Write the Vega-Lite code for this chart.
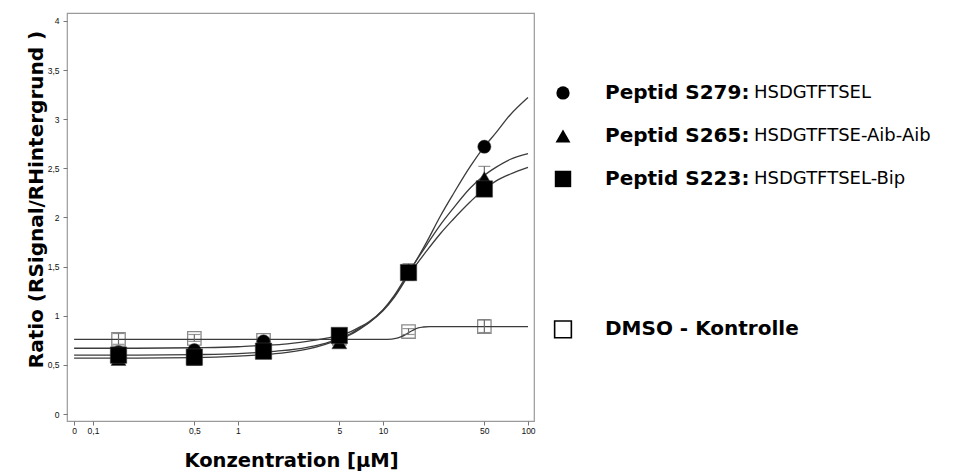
{
  "$schema": "https://vega.github.io/schema/vega-lite/v6.json",
  "background": "white",
  "padding": {"left": 25, "top": 12, "right": 0, "bottom": 0},
  "spacing": 7,
  "config": {"font": "Liberation Sans", "view": {"stroke": null}},
  "resolve": {"scale": {"x": "independent", "y": "independent", "shape": "independent", "color": "independent"}},
  "datasets": {
    "curves": [
      {"series": "S279", "conc": 0.0741, "ratio": 0.67}, {"series": "S279", "conc": 0.2, "ratio": 0.67}, {"series": "S279", "conc": 0.5, "ratio": 0.675}, {"series": "S279", "conc": 1, "ratio": 0.685}, {"series": "S279", "conc": 1.5, "ratio": 0.7}, {"series": "S279", "conc": 2, "ratio": 0.71}, {"series": "S279", "conc": 3, "ratio": 0.74}, {"series": "S279", "conc": 4, "ratio": 0.77}, {"series": "S279", "conc": 5, "ratio": 0.8}, {"series": "S279", "conc": 6, "ratio": 0.84}, {"series": "S279", "conc": 7, "ratio": 0.89}, {"series": "S279", "conc": 8, "ratio": 0.94}, {"series": "S279", "conc": 10, "ratio": 1.06}, {"series": "S279", "conc": 12, "ratio": 1.2}, {"series": "S279", "conc": 15, "ratio": 1.43}, {"series": "S279", "conc": 20, "ratio": 1.75}, {"series": "S279", "conc": 25, "ratio": 2.02}, {"series": "S279", "conc": 30, "ratio": 2.22}, {"series": "S279", "conc": 40, "ratio": 2.52}, {"series": "S279", "conc": 50, "ratio": 2.72}, {"series": "S279", "conc": 60, "ratio": 2.86}, {"series": "S279", "conc": 75, "ratio": 3.04}, {"series": "S279", "conc": 100, "ratio": 3.22},
      {"series": "S265", "conc": 0.0741, "ratio": 0.57}, {"series": "S265", "conc": 0.2, "ratio": 0.57}, {"series": "S265", "conc": 0.5, "ratio": 0.575}, {"series": "S265", "conc": 1, "ratio": 0.59}, {"series": "S265", "conc": 1.5, "ratio": 0.605}, {"series": "S265", "conc": 2, "ratio": 0.62}, {"series": "S265", "conc": 3, "ratio": 0.66}, {"series": "S265", "conc": 4, "ratio": 0.71}, {"series": "S265", "conc": 5, "ratio": 0.76}, {"series": "S265", "conc": 6, "ratio": 0.81}, {"series": "S265", "conc": 7, "ratio": 0.87}, {"series": "S265", "conc": 8, "ratio": 0.93}, {"series": "S265", "conc": 10, "ratio": 1.06}, {"series": "S265", "conc": 12, "ratio": 1.21}, {"series": "S265", "conc": 15, "ratio": 1.44}, {"series": "S265", "conc": 20, "ratio": 1.72}, {"series": "S265", "conc": 25, "ratio": 1.93}, {"series": "S265", "conc": 30, "ratio": 2.08}, {"series": "S265", "conc": 40, "ratio": 2.3}, {"series": "S265", "conc": 50, "ratio": 2.43}, {"series": "S265", "conc": 60, "ratio": 2.51}, {"series": "S265", "conc": 75, "ratio": 2.59}, {"series": "S265", "conc": 100, "ratio": 2.65},
      {"series": "S223", "conc": 0.0741, "ratio": 0.6}, {"series": "S223", "conc": 0.2, "ratio": 0.6}, {"series": "S223", "conc": 0.5, "ratio": 0.605}, {"series": "S223", "conc": 1, "ratio": 0.615}, {"series": "S223", "conc": 1.5, "ratio": 0.63}, {"series": "S223", "conc": 2, "ratio": 0.645}, {"series": "S223", "conc": 3, "ratio": 0.68}, {"series": "S223", "conc": 4, "ratio": 0.72}, {"series": "S223", "conc": 5, "ratio": 0.77}, {"series": "S223", "conc": 6, "ratio": 0.82}, {"series": "S223", "conc": 7, "ratio": 0.88}, {"series": "S223", "conc": 8, "ratio": 0.93}, {"series": "S223", "conc": 10, "ratio": 1.05}, {"series": "S223", "conc": 12, "ratio": 1.19}, {"series": "S223", "conc": 15, "ratio": 1.41}, {"series": "S223", "conc": 20, "ratio": 1.66}, {"series": "S223", "conc": 25, "ratio": 1.84}, {"series": "S223", "conc": 30, "ratio": 1.97}, {"series": "S223", "conc": 40, "ratio": 2.16}, {"series": "S223", "conc": 50, "ratio": 2.29}, {"series": "S223", "conc": 60, "ratio": 2.37}, {"series": "S223", "conc": 75, "ratio": 2.44}, {"series": "S223", "conc": 100, "ratio": 2.51},
      {"series": "DMSO", "conc": 0.0741, "ratio": 0.76}, {"series": "DMSO", "conc": 10, "ratio": 0.76}, {"series": "DMSO", "conc": 11.5, "ratio": 0.763}, {"series": "DMSO", "conc": 12.5, "ratio": 0.772}, {"series": "DMSO", "conc": 13.5, "ratio": 0.79}, {"series": "DMSO", "conc": 14.5, "ratio": 0.815}, {"series": "DMSO", "conc": 15.5, "ratio": 0.84}, {"series": "DMSO", "conc": 16.5, "ratio": 0.862}, {"series": "DMSO", "conc": 17.5, "ratio": 0.877}, {"series": "DMSO", "conc": 19, "ratio": 0.886}, {"series": "DMSO", "conc": 21, "ratio": 0.89}, {"series": "DMSO", "conc": 100, "ratio": 0.89}
    ],
    "points": [
      {"series": "S265", "conc": 0.15, "ratio": 0.56}, {"series": "S265", "conc": 0.5, "ratio": 0.56}, {"series": "S265", "conc": 1.5, "ratio": 0.63}, {"series": "S265", "conc": 5, "ratio": 0.73}, {"series": "S265", "conc": 15, "ratio": 1.44}, {"series": "S265", "conc": 50, "ratio": 2.4},
      {"series": "S279", "conc": 0.15, "ratio": 0.63}, {"series": "S279", "conc": 0.5, "ratio": 0.65}, {"series": "S279", "conc": 1.5, "ratio": 0.74}, {"series": "S279", "conc": 5, "ratio": 0.8}, {"series": "S279", "conc": 15, "ratio": 1.45}, {"series": "S279", "conc": 50, "ratio": 2.72},
      {"series": "S223", "conc": 0.15, "ratio": 0.6}, {"series": "S223", "conc": 0.5, "ratio": 0.58}, {"series": "S223", "conc": 1.5, "ratio": 0.64}, {"series": "S223", "conc": 5, "ratio": 0.8}, {"series": "S223", "conc": 15, "ratio": 1.44}, {"series": "S223", "conc": 50, "ratio": 2.29}
    ],
    "dmso": [
      {"series": "DMSO", "conc": 0.15, "ratio": 0.76}, {"series": "DMSO", "conc": 0.5, "ratio": 0.77}, {"series": "DMSO", "conc": 1.5, "ratio": 0.75}, {"series": "DMSO", "conc": 5, "ratio": 0.77}, {"series": "DMSO", "conc": 15, "ratio": 0.84}, {"series": "DMSO", "conc": 50, "ratio": 0.89}
    ],
    "errors": [
      {"series": "S265", "conc": 50, "lo": 2.28, "hi": 2.52},
      {"series": "S223", "conc": 15, "lo": 1.36, "hi": 1.53},
      {"series": "DMSO", "conc": 0.15, "lo": 0.71, "hi": 0.82},
      {"series": "DMSO", "conc": 0.5, "lo": 0.74, "hi": 0.81},
      {"series": "DMSO", "conc": 1.5, "lo": 0.72, "hi": 0.78},
      {"series": "DMSO", "conc": 15, "lo": 0.81, "hi": 0.87},
      {"series": "DMSO", "conc": 50, "lo": 0.83, "hi": 0.96}
    ],
    "legend": [
      {"series": "S279", "name": "Peptid S279:", "seq": "HSDGTFTSEL", "order": 1},
      {"series": "S265", "name": "Peptid S265:", "seq": "HSDGTFTSE-Aib-Aib", "order": 2},
      {"series": "S223", "name": "Peptid S223:", "seq": "HSDGTFTSEL-Bip", "order": 3},
      {"series": "DMSO", "name": "DMSO - Kontrolle", "seq": "", "order": 6.5}
    ]
  },
  "hconcat": [
    {
      "width": 467,
      "height": 408,
      "view": {"stroke": "#9a9a9a", "strokeWidth": 1.2},
      "encoding": {
        "x": {
          "field": "conc", "type": "quantitative",
          "scale": {"type": "log", "domain": [0.0662, 110], "nice": false},
          "axis": {
            "title": "Konzentration [µM]",
            "values": [0.0741, 0.1, 0.5, 1, 5, 10, 50, 100],
            "labelExpr": "datum.value < 0.09 ? '0' : replace(toString(datum.value), '.', ',')",
            "grid": false, "domain": false, "tickColor": "#777", "tickSize": 4,
            "labelFontSize": 8.5, "labelColor": "#111", "labelPadding": 1, "labelOverlap": false, "labelFlush": false,
            "titleFont": "DejaVu Sans", "titleFontSize": 19.5, "titleFontWeight": "bold", "titleColor": "#000", "titlePadding": 17, "titleX": 224
          }
        },
        "y": {
          "field": "ratio", "type": "quantitative",
          "scale": {"domain": [-0.07, 4.08], "nice": false, "zero": false},
          "axis": {
            "title": "Ratio (RSignal/RHintergrund )",
            "values": [0, 0.5, 1, 1.5, 2, 2.5, 3, 3.5, 4],
            "labelExpr": "replace(toString(datum.value), '.', ',')",
            "grid": false, "domain": false, "tickColor": "#777", "tickSize": 4,
            "labelFontSize": 8.5, "labelColor": "#111", "labelPadding": 4,
            "titleFont": "DejaVu Sans", "titleFontSize": 20, "titleFontWeight": "bold", "titleColor": "#000", "titlePadding": 1, "titleY": 186
          }
        }
      },
      "layer": [
        {
          "data": {"name": "dmso"},
          "mark": {"type": "point", "shape": "square", "filled": false, "stroke": "#8a8a8a", "strokeWidth": 1.3, "size": 180, "opacity": 1}
        },
        {
          "data": {"name": "curves"},
          "mark": {"type": "line", "interpolate": "monotone", "strokeWidth": 1.3, "color": "#3c3c3c"},
          "encoding": {"detail": {"field": "series"}}
        },
        {
          "data": {"name": "errors"},
          "mark": {"type": "errorbar", "ticks": {"size": 12}, "color": "#6a6a6a", "thickness": 1.2},
          "encoding": {"y": {"field": "lo", "type": "quantitative"}, "y2": {"field": "hi"}}
        },
        {
          "data": {"name": "points"},
          "mark": {"type": "point", "filled": true, "color": "#000", "stroke": "#444", "strokeWidth": 0.5, "opacity": 1},
          "encoding": {
            "shape": {"field": "series", "type": "nominal", "scale": {"domain": ["S279", "S265", "S223"], "range": ["circle", "triangle-up", "square"]}, "legend": null},
            "size": {"field": "series", "type": "nominal", "scale": {"domain": ["S279", "S265", "S223"], "range": [175, 270, 215]}, "legend": null}
          }
        }
      ]
    },
    {
      "width": 400,
      "height": 408,
      "view": {"stroke": null},
      "data": {"name": "legend"},
      "encoding": {
        "y": {"field": "order", "type": "quantitative", "scale": {"domain": [-0.86, 8.63], "reverse": true, "nice": false, "zero": false}, "axis": null}
      },
      "layer": [
        {
          "transform": [{"filter": "datum.series !== 'DMSO'"}],
          "mark": {"type": "point", "filled": true, "color": "#000", "opacity": 1},
          "encoding": {
            "x": {"datum": "sym", "type": "nominal", "scale": {"type": "point", "domain": ["sym", "seq"], "range": [20, 211], "padding": 0}, "axis": null},
            "shape": {"field": "series", "type": "nominal", "scale": {"domain": ["S279", "S265", "S223"], "range": ["circle", "triangle-up", "square"]}, "legend": null},
            "size": {"field": "series", "type": "nominal", "scale": {"domain": ["S279", "S265", "S223"], "range": [324, 640, 340]}, "legend": null}
          }
        },
        {
          "transform": [{"filter": "datum.series === 'DMSO'"}],
          "mark": {"type": "point", "shape": "square", "filled": false, "stroke": "#000", "strokeWidth": 1.6, "size": 280, "opacity": 1},
          "encoding": {
            "x": {"datum": "sym", "type": "nominal", "scale": {"type": "point", "domain": ["sym", "seq"], "range": [20, 211], "padding": 0}, "axis": null}
          }
        },
        {
          "mark": {"type": "text", "align": "left", "baseline": "middle", "dx": 42, "font": "DejaVu Sans", "fontSize": 20, "fontWeight": "bold", "color": "#000"},
          "encoding": {
            "x": {"datum": "sym", "type": "nominal", "scale": {"type": "point", "domain": ["sym", "seq"], "range": [20, 211], "padding": 0}, "axis": null},
            "text": {"field": "name"}
          }
        },
        {
          "mark": {"type": "text", "align": "left", "baseline": "middle", "font": "DejaVu Sans", "fontSize": 18, "color": "#000"},
          "encoding": {
            "x": {"datum": "seq", "type": "nominal", "scale": {"type": "point", "domain": ["sym", "seq"], "range": [20, 211], "padding": 0}, "axis": null},
            "text": {"field": "seq"}
          }
        }
      ]
    }
  ]
}
